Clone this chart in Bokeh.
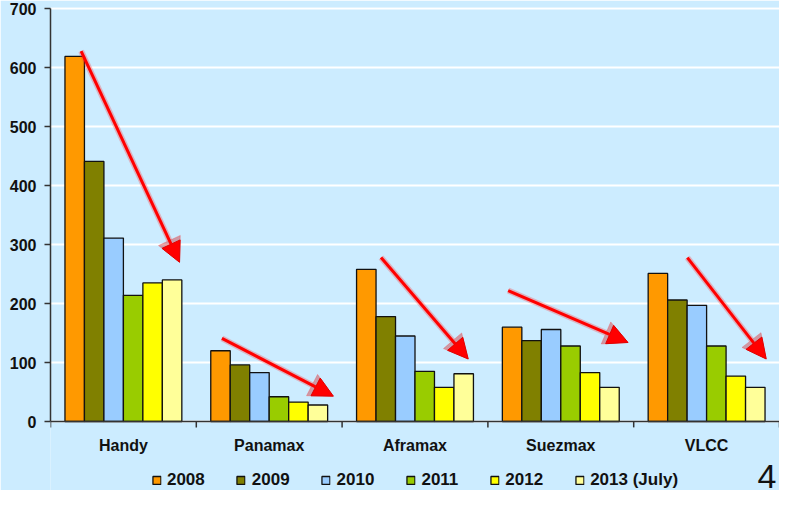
from bokeh.plotting import figure
from bokeh.models import (ColumnDataSource, Range1d, FixedTicker, Legend, LegendItem,
                          Arrow, NormalHead, Label, Span)
from bokeh.core.properties import value
from bokeh.transform import dodge
from bokeh.embed import file_html
from bokeh.resources import INLINE

# ---- data ----
categories = ["Handy", "Panamax", "Aframax", "Suezmax", "VLCC"]
series_names = ["2008", "2009", "2010", "2011", "2012", "2013 (July)"]
v2008 = [619, 120, 258, 160, 251]
v2009 = [441, 96, 178, 137, 206]
v2010 = [311, 83, 145, 156, 197]
v2011 = [214, 42, 85, 128, 128]
v2012 = [235, 33, 58, 83, 77]
v2013 = [240, 28, 81, 58, 58]
colors = ["#FF9900", "#808000", "#99CCFF", "#99CC00", "#FFFF00", "#FFFF99"]
y_ticks = [0, 100, 200, 300, 400, 500, 600, 700]

# trend arrows (start x, start y, end x, end y) in data coordinates
arrow_x0 = [-0.29, 0.676, 1.767, 2.639, 3.868]
arrow_y0 = [628, 141, 278, 222, 278]
arrow_x1 = [0.385, 1.44, 2.365, 3.461, 4.409]
arrow_y1 = [270, 43, 106, 134, 106]

page_number = "4"

pos = list(range(len(categories)))
bounds = [x - 0.5 for x in pos] + [pos[-1] + 0.5]
data = dict(pos=pos, cat=categories)
series_vals = [v2008, v2009, v2010, v2011, v2012, v2013]
keys = ["s%d" % i for i in range(len(series_vals))]
for k, vals in zip(keys, series_vals):
    data[k] = vals
src = ColumnDataSource(data)

BG = "#CCECFF"
FONT = "Liberation Sans"
AX = "#333333"

# the frame extends below zero so the category labels, page number and legend stay visible
p = figure(width=779, height=490, output_backend="svg", toolbar_location=None,
           x_range=Range1d(-0.5, 4.5), y_range=Range1d(-117, 702),
           x_axis_location=None,
           background_fill_color=BG, border_fill_color=BG,
           min_border_left=50, min_border_right=0, min_border_top=7, min_border_bottom=0)
p.outline_line_color = None

bw = 0.1336
n = len(keys)
renderers = []
for i, k in enumerate(keys):
    off = (i - (n - 1) / 2) * bw
    r = p.vbar(x=dodge("pos", off, range=p.x_range), top=k, bottom=0, width=bw, source=src,
               fill_color=colors[i], line_color="#111111", line_width=1.3)
    renderers.append(r)

# grid
p.xgrid.grid_line_color = None
p.ygrid.grid_line_color = "white"
p.ygrid.grid_line_width = 2
p.ygrid.ticker = FixedTicker(ticks=y_ticks)

# y axis (line limited to the value range)
ya = p.yaxis[0]
ya.ticker = FixedTicker(ticks=y_ticks)
ya.bounds = (min(y_ticks), max(y_ticks))
ya.axis_line_color = AX
ya.axis_line_width = 1.5
ya.major_tick_line_color = AX
ya.major_tick_line_width = 1.5
ya.major_tick_out = 6
ya.major_tick_in = 0
ya.minor_tick_line_color = None
ya.major_label_standoff = 8
ya.major_label_text_font = FONT
ya.major_label_text_font_style = "bold"
ya.major_label_text_font_size = "16px"
ya.major_label_text_color = "#111111"

# category axis at zero: line, boundary ticks, labels
p.add_layout(Span(location=0, dimension="width", line_color=AX, line_width=1.5))
p.segment(x0=bounds, y0=0, x1=bounds, y1=-10, line_color=AX, line_width=1.5)
p.text(x="pos", y=-40, text="cat", source=src, text_font=value(FONT),
       text_font_style="bold", text_font_size="16px", text_color="#111111",
       text_align="center", text_baseline="middle")

# arrows
for x0, y0, x1, y1 in zip(arrow_x0, arrow_y0, arrow_x1, arrow_y1):
    glow = Arrow(x_start=x0, y_start=y0, x_end=x1, y_end=y1,
                 line_color="#FF3333", line_width=6, line_alpha=0.3,
                 end=NormalHead(size=24, fill_color="#CC0000", fill_alpha=0.35,
                                line_color="#FF3333", line_alpha=0.3))
    p.add_layout(glow)
    arr = Arrow(x_start=x0, y_start=y0, x_end=x1, y_end=y1,
                line_color="#FF0000", line_width=3,
                end=NormalHead(size=20, fill_color="#FF0000", line_color="#E00000", line_width=1))
    p.add_layout(arr)

# page number
p.add_layout(Label(x=4.479, y=-93, text=page_number, text_align="right",
                   text_baseline="alphabetic", text_font=FONT,
                   text_font_size="34px", text_color="#111111"))

# legend
items = [LegendItem(label=nm, renderers=[r]) for nm, r in zip(series_names, renderers)]
legend = Legend(items=items, orientation="horizontal", location="bottom_center",
                glyph_width=10, glyph_height=10, label_standoff=6, spacing=31,
                label_text_font=FONT, label_text_font_style="bold",
                label_text_font_size="17px", label_text_color="#111111",
                border_line_color=None, background_fill_alpha=0,
                padding=0, margin=0)
p.add_layout(legend)

open("out.html", "w").write(file_html(p, INLINE))
